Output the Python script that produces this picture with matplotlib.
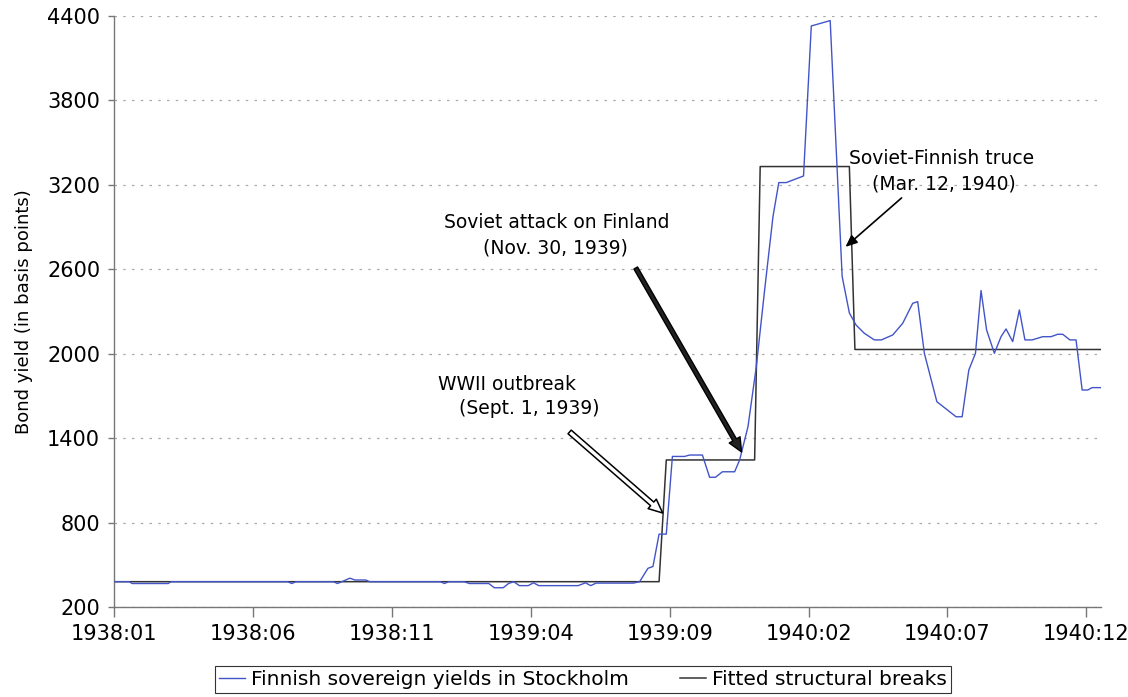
import matplotlib
matplotlib.use("Agg")
import matplotlib.pyplot as plt

# x in months since 1938:01, y in basis points
yield_month = [0.0, 0.55, 0.65, 1.95, 2.05, 6.25, 6.4, 6.55, 7.9, 8.04, 8.2, 8.49, 8.67, 9.06,
               9.2, 11.75, 11.89, 12.05, 12.6, 12.79, 13.49, 13.69, 14.01, 14.2, 14.39, 14.59,
               14.91, 15.1, 15.29, 16.71, 16.97, 17.16, 17.35, 18.7, 18.92, 19.22, 19.40, 19.62,
               19.88, 20.10, 20.54, 20.72, 21.18, 21.44, 21.65, 21.90, 22.34, 22.52, 22.82, 23.12,
               23.42, 23.72, 23.93, 24.20, 24.82, 25.10, 25.78, 26.21, 26.47, 26.71, 27.01, 27.37,
               27.62, 28.03, 28.39, 28.75, 28.93, 29.17, 29.62, 30.31, 30.53, 30.77, 31.01, 31.21,
               31.41, 31.69, 31.93, 32.11, 32.35, 32.59, 32.79, 33.05, 33.43, 33.73, 33.97, 34.15,
               34.41, 34.63, 34.85, 35.05, 35.21, 35.53]
yield_bp = [380, 380, 367, 367, 380, 380, 367, 380, 380, 367, 380, 405, 392, 392,
            380, 380, 367, 380, 380, 367, 367, 337, 337, 367, 380, 352,
            352, 372, 352, 352, 372, 352, 370, 370, 380, 475, 488, 718,
            718, 1270, 1270, 1280, 1280, 1122, 1122, 1161, 1161, 1245, 1481, 1908,
            2453, 2974, 3216, 3216, 3263, 4329, 4367, 2550, 2290, 2204, 2145, 2098,
            2098, 2133, 2216, 2358, 2370, 2003, 1659, 1552, 1552, 1884, 2003, 2449,
            2169, 2003, 2121, 2176, 2086, 2311, 2098, 2098, 2121, 2121, 2138, 2138,
            2098, 2098, 1742, 1742, 1759, 1759]

fit_month = [0.0, 19.62, 19.88, 23.06, 23.26, 26.47, 26.67, 35.53]
fit_bp = [380, 380, 1245, 1245, 3330, 3330, 2030, 2030]

tick_pos = [0, 5, 10, 15, 20, 25, 30, 35]
tick_labels = ["1938:01", "1938:06", "1938:11", "1939:04", "1939:09", "1940:02", "1940:07", "1940:12"]
y_ticks = [200, 800, 1400, 2000, 2600, 3200, 3800, 4400]

fig = plt.figure(figsize=(11.28, 6.97), dpi=100)
ax = fig.add_axes([0.1011, 0.1291, 0.875, 0.848])

ax.plot(yield_month, yield_bp, color="#4254c8", lw=1.0,
        label="Finnish sovereign yields in Stockholm", zorder=3)
ax.plot(fit_month, fit_bp, color="#333333", lw=1.1,
        label="Fitted structural breaks", zorder=2)

ax.set_xlim(0, 35.53)
ax.set_ylim(200, 4400)
ax.set_xticks(tick_pos)
ax.set_xticklabels(tick_labels)
ax.set_yticks(y_ticks)
ax.tick_params(axis="both", labelsize=15, colors="#777777", labelcolor="black")
ax.tick_params(axis="x", length=7, width=1, pad=5)
ax.tick_params(axis="y", length=4, width=1, pad=6)
for side in ("top", "right"):
    ax.spines[side].set_visible(False)
for side in ("left", "bottom"):
    ax.spines[side].set_color("#777777")
    ax.spines[side].set_linewidth(1.0)
ax.yaxis.grid(True, linestyle=(0, (2, 5)), color="#aaaaaa", lw=0.9)
ax.set_axisbelow(True)
ax.set_ylabel("Bond yield (in basis points)", fontsize=13, labelpad=10)

# annotations
txt = dict(fontsize=13.5, ha="center", va="center")
ax.text(14.14, 1778, "WWII outbreak", **txt)
ax.text(14.93, 1614, "(Sept. 1, 1939)", **txt)
ax.text(15.92, 2929, "Soviet attack on Finland", **txt)
ax.text(15.90, 2751, "(Nov. 30, 1939)", **txt)
ax.text(29.80, 3384, "Soviet-Finnish truce", **txt)
ax.text(29.86, 3206, "(Mar. 12, 1940)", **txt)

ax.annotate("", xy=(19.75, 868), xytext=(16.40, 1444),
            arrowprops=dict(arrowstyle="simple,head_width=0.9,head_length=1.0,tail_width=0.35",
                            fc="white", ec="black", lw=1.1, shrinkA=0, shrinkB=0))
ax.annotate("", xy=(22.59, 1302), xytext=(18.78, 2609),
            arrowprops=dict(arrowstyle="simple,head_width=0.9,head_length=1.0,tail_width=0.3",
                            fc="#222222", ec="black", lw=1.0, shrinkA=0, shrinkB=0))
ax.annotate("", xy=(26.33, 2759), xytext=(28.35, 3107),
            arrowprops=dict(arrowstyle="-|>,head_width=0.3,head_length=0.7",
                            color="black", lw=1.2, shrinkA=0, shrinkB=0))

leg = ax.legend(loc="upper center", bbox_to_anchor=(0.475, -0.1), ncol=2,
                fontsize=14.5, frameon=True, fancybox=False, handlelength=1.3,
                handletextpad=0.3, columnspacing=2.5, borderpad=0.2, borderaxespad=0)
leg.get_frame().set_edgecolor("black")
leg.get_frame().set_linewidth(0.8)

fig.savefig("out.png", dpi=100)
